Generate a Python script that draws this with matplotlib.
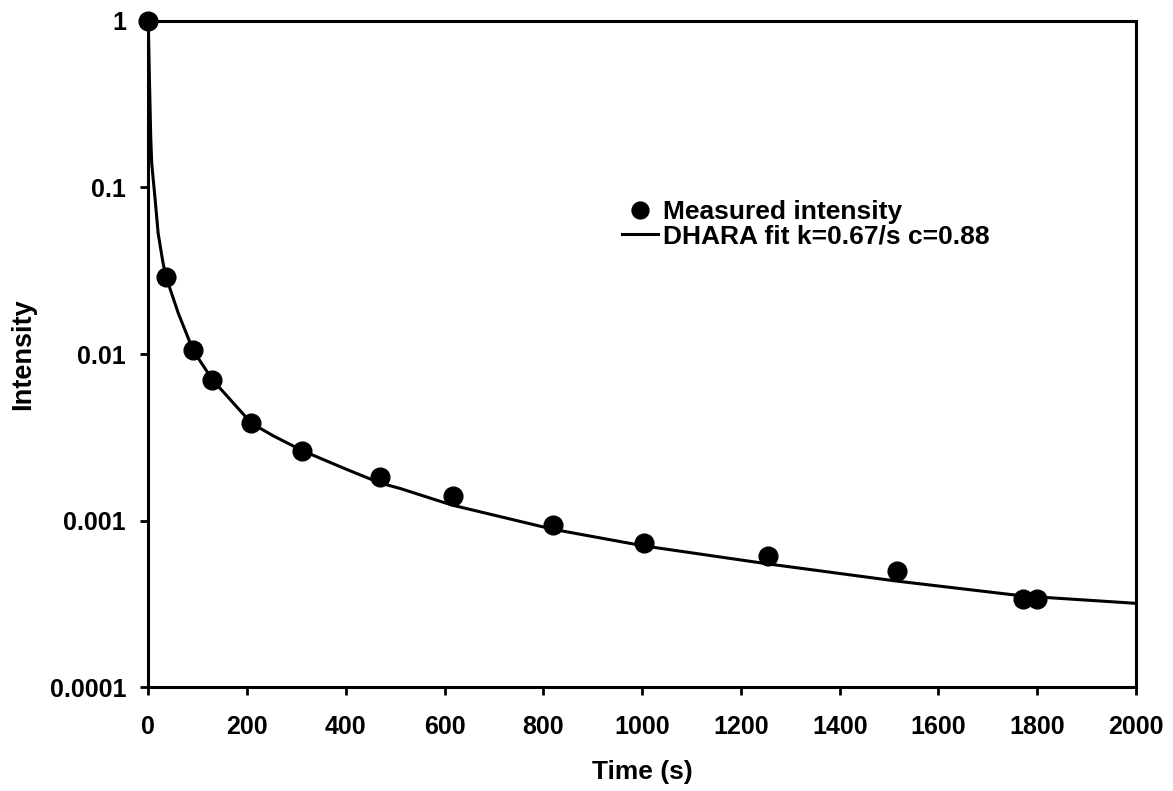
import matplotlib
matplotlib.use("Agg")
import matplotlib.pyplot as plt
from matplotlib.ticker import FixedLocator, FixedFormatter, NullLocator

plt.rcParams['font.family'] = ['Liberation Sans', 'DejaVu Sans']
plt.rcParams['font.weight'] = 'bold'

# measured points
t_meas = [0, 36, 91, 130, 209, 312, 469, 616, 820, 1004, 1255, 1515, 1772, 1800]
i_meas = [1.0, 0.0289, 0.0105, 0.0070, 0.00384, 0.00263, 0.00184, 0.00141,
          0.000942, 0.000738, 0.000614, 0.000501, 0.000339, 0.000337]

# fit curve, read point by point
t_fit = [0, 2, 5, 7, 14, 20, 30, 36, 61, 91, 130, 209, 253, 312, 400, 470,
         510, 615, 820, 1004, 1255, 1515, 1772, 2000]
i_fit = [1.0, 0.5, 0.2, 0.139, 0.084, 0.053, 0.035, 0.029, 0.0175, 0.0105,
         0.0070, 0.00384, 0.00323, 0.00263, 0.00204, 0.00168, 0.00156,
         0.00124, 0.000887, 0.000705, 0.00055, 0.000434, 0.000353, 0.000319]

x_ticks = [0, 200, 400, 600, 800, 1000, 1200, 1400, 1600, 1800, 2000]
y_ticks = [0.0001, 0.001, 0.01, 0.1, 1]
y_tick_labels = ['0.0001', '0.001', '0.01', '0.1', '1']

fig = plt.figure(figsize=(11.73, 7.91), dpi=100)
ax = fig.add_axes([0.1264, 0.1311, 0.8421, 0.8427])

ax.plot(t_fit, i_fit, color='black', lw=2.2, label='DHARA fit k=0.67/s c=0.88', zorder=2)
ax.plot(t_meas, i_meas, 'o', color='black', ms=13.5, label='Measured intensity',
        clip_on=False, zorder=3)

ax.set_yscale('log')
ax.set_xlim(0, 2000)
ax.set_ylim(0.0001, 1)
ax.set_xticks(x_ticks)
ax.yaxis.set_major_locator(FixedLocator(y_ticks))
ax.yaxis.set_major_formatter(FixedFormatter(y_tick_labels))
ax.yaxis.set_minor_locator(NullLocator())

for s in ax.spines.values():
    s.set_linewidth(2.2)
ax.tick_params(direction='out', length=6, width=2, labelsize=18)
ax.tick_params(axis='x', pad=14)
ax.tick_params(axis='y', pad=10)
for lab in ax.get_xticklabels() + ax.get_yticklabels():
    lab.set_fontweight('bold')

ax.set_xlabel('Time (s)', fontsize=19, fontweight='bold', labelpad=15)
ax.set_ylabel('Intensity', fontsize=19.5, fontweight='bold', labelpad=10)

h, l = ax.get_legend_handles_labels()
leg = ax.legend(h[::-1], l[::-1], loc='center left', bbox_to_anchor=(0.4665, 0.695),
                frameon=False, fontsize=19, borderpad=0, handlelength=1.35,
                handletextpad=0.2, labelspacing=0.0, markerscale=0.9)
for txt in leg.get_texts():
    txt.set_fontweight('bold')

fig.savefig('out.png', dpi=100)
